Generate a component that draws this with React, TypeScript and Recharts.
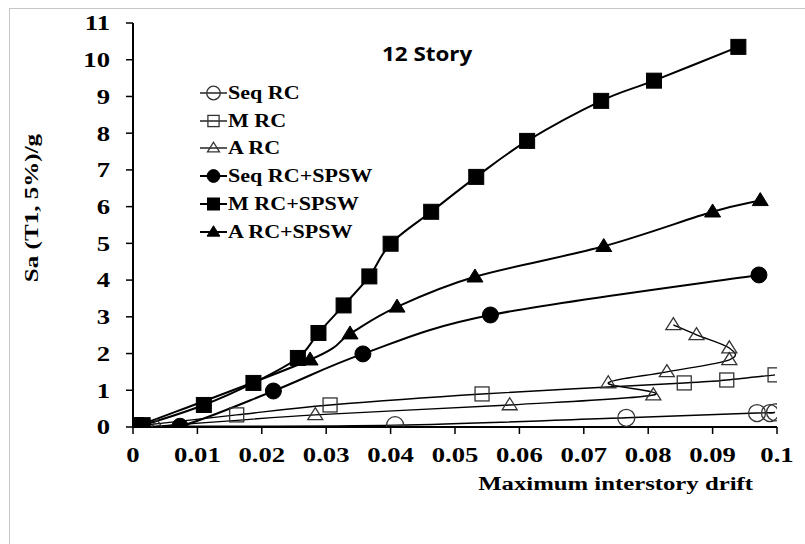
import React from "react";
import { LineChart, Line, XAxis, YAxis } from "recharts";

// drift ticks on the horizontal axis, Sa/g ticks on the vertical one
const driftTicks = [0, 0.01, 0.02, 0.03, 0.04, 0.05, 0.06, 0.07, 0.08, 0.09, 0.1];
const saTicks = [0, 1, 2, 3, 4, 5, 6, 7, 8, 9, 10, 11];

// IDA points: maximum interstory drift vs Sa(T1, 5%)/g
const seqRcDrift = [0.0005, 0.0407, 0.0766, 0.0969, 0.0989, 0.0997];
const seqRcSa = [0.02, 0.05, 0.25, 0.38, 0.38, 0.4];

const mRcDrift = [0.0008, 0.0161, 0.0306, 0.0542, 0.0856, 0.0922, 0.0997];
const mRcSa = [0.03, 0.33, 0.6, 0.9, 1.2, 1.28, 1.42];

const aRcDrift = [0.0037, 0.0283, 0.0585, 0.0808, 0.0738, 0.0829, 0.0926, 0.0926, 0.0875, 0.0839];
const aRcSa = [0.02, 0.33, 0.6, 0.87, 1.2, 1.5, 1.83, 2.15, 2.51, 2.78];

const seqSpswDrift = [0.0005, 0.0073, 0.0218, 0.0357, 0.0555, 0.0972];
const seqSpswSa = [0.02, 0.02, 0.98, 1.99, 3.05, 4.14];

const mSpswDrift = [0.0005, 0.0015, 0.011, 0.0187, 0.0256, 0.0288, 0.0327, 0.0367, 0.04, 0.0463, 0.0533, 0.0612, 0.0727, 0.0809, 0.094];
const mSpswSa = [0.05, 0.05, 0.6, 1.2, 1.88, 2.56, 3.31, 4.1, 4.99, 5.86, 6.81, 7.79, 8.88, 9.43, 10.35];

const aSpswDrift = [0.0008, 0.0275, 0.0337, 0.041, 0.0531, 0.0731, 0.09, 0.0974];
const aSpswSa = [0.03, 1.83, 2.54, 3.27, 4.09, 4.92, 5.86, 6.17];

type Kind = "circle" | "square" | "triangle";

const zip = (drift: number[], sa: number[]) => drift.map((d, i) => ({ drift: d, sa: sa[i] }));

const series = [
  { name: "Seq RC", data: zip(seqRcDrift, seqRcSa), kind: "circle" as Kind, filled: false },
  { name: "M RC", data: zip(mRcDrift, mRcSa), kind: "square" as Kind, filled: false },
  { name: "A RC", data: zip(aRcDrift, aRcSa), kind: "triangle" as Kind, filled: false },
  { name: "Seq RC+SPSW", data: zip(seqSpswDrift, seqSpswSa), kind: "circle" as Kind, filled: true },
  { name: "M RC+SPSW", data: zip(mSpswDrift, mSpswSa), kind: "square" as Kind, filled: true },
  { name: "A RC+SPSW", data: zip(aSpswDrift, aSpswSa), kind: "triangle" as Kind, filled: true },
];

const serif = "'Liberation Serif', 'Times New Roman', serif";
const STRETCH = 1.27;

// Excel-style smoothed line (Catmull-Rom through every point), works for x going backwards too
const smoothCurve = (context: any) => {
  let pts: [number, number][] = [];
  return {
    areaStart() {},
    areaEnd() {},
    lineStart() {
      pts = [];
    },
    point(x: number, y: number) {
      pts.push([+x, +y]);
    },
    lineEnd() {
      if (!pts.length) return;
      context.moveTo(pts[0][0], pts[0][1]);
      const k = 1 / 6;
      for (let i = 0; i < pts.length - 1; i++) {
        const p0 = pts[Math.max(i - 1, 0)];
        const p1 = pts[i];
        const p2 = pts[i + 1];
        const p3 = pts[Math.min(i + 2, pts.length - 1)];
        context.bezierCurveTo(
          p1[0] + (p2[0] - p0[0]) * k,
          p1[1] + (p2[1] - p0[1]) * k,
          p2[0] - (p3[0] - p1[0]) * k,
          p2[1] - (p3[1] - p1[1]) * k,
          p2[0],
          p2[1]
        );
      }
    },
  };
};

const Marker = ({ cx, cy, kind, filled, scale = 1 }: { cx: number; cy: number; kind: Kind; filled: boolean; scale?: number }) => {
  const fill = filled ? "#000" : "none";
  const stroke = filled ? "#000" : "#333";
  const sw = filled ? 1 : 1.3;
  if (kind === "circle") {
    const r = (filled ? 8 : 8.5) * scale;
    return <circle cx={cx} cy={cy} r={r} fill={fill} stroke={stroke} strokeWidth={sw} />;
  }
  if (kind === "square") {
    const s = (filled ? 15 : 14) * scale;
    return <rect x={cx - s / 2} y={cy - s / 2} width={s} height={s} fill={fill} stroke={stroke} strokeWidth={sw} />;
  }
  const w = (filled ? 16 : 15) * scale;
  const h = (filled ? 13 : 12) * scale;
  return (
    <polygon
      points={`${cx},${cy - h * 0.6} ${cx + w / 2},${cy + h * 0.4} ${cx - w / 2},${cy + h * 0.4}`}
      fill={fill}
      stroke={stroke}
      strokeWidth={sw}
      strokeLinejoin="miter"
    />
  );
};

const YTick = ({ x, y, payload }: any) => (
  <g transform={`translate(${x},${y})`}>
    <text transform={`scale(${STRETCH},1)`} textAnchor="end" dy="0.35em" fontFamily={serif} fontWeight="bold" fontSize={21} fill="#000">
      {payload.value}
    </text>
  </g>
);

const XTick = ({ x, y, payload }: any) => (
  <g transform={`translate(${x},${y})`}>
    <text transform={`scale(${STRETCH},1)`} textAnchor="middle" dy="0.71em" fontFamily={serif} fontWeight="bold" fontSize={21} fill="#000">
      {String(payload.value)}
    </text>
  </g>
);

const XTitle = ({ viewBox }: any) => (
  <g transform={`translate(${viewBox.x + viewBox.width - 24},490)`}>
    <text transform={`scale(${STRETCH},1)`} textAnchor="end" fontFamily={serif} fontWeight="bold" fontSize={19.5} fill="#000">
      Maximum interstory drift
    </text>
  </g>
);

const YTitle = () => (
  <g transform="translate(38,208) rotate(-90)">
    <text transform={`scale(1.32,1)`} textAnchor="middle" fontFamily={serif} fontWeight="bold" fontSize={19} fill="#000">
      Sa (T1, 5%)/g
    </text>
  </g>
);

const SeriesLegend = () => (
  <div style={{ position: "absolute", left: 200, top: 79 }}>
    {series.map((s) => (
      <div key={s.name} style={{ display: "flex", alignItems: "center", height: 27.8 }}>
        <svg width={27} height={20} style={{ flex: "none" }}>
          <line x1={0} x2={27} y1={10} y2={10} stroke="#000" strokeWidth={s.filled ? 2 : 1.3} />
          <Marker cx={13.5} cy={10} kind={s.kind} filled={s.filled} scale={0.8} />
        </svg>
        <span
          style={{
            display: "inline-block",
            fontFamily: serif,
            fontWeight: "bold",
            fontSize: 19,
            lineHeight: "20px",
            whiteSpace: "nowrap",
            transform: "scaleX(1.16)",
            transformOrigin: "left center",
            marginLeft: 1,
          }}
        >
          {s.name}
        </span>
      </div>
    ))}
  </div>
);

export default function App() {
  return (
    <div style={{ position: "absolute", left: 0, top: 0, width: 805, height: 544, background: "#fff", overflow: "hidden" }}>
      <div
        style={{
          position: "absolute",
          left: 9,
          top: 8,
          width: 820,
          height: 560,
          borderTop: "1px solid #c6c6c6",
          borderLeft: "1px solid #c6c6c6",
        }}
      />
      <LineChart width={805} height={544} margin={{ top: 23, right: 28, bottom: 77, left: 73 }}>
        <XAxis
          type="number"
          dataKey="drift"
          domain={[0, 0.1]}
          ticks={driftTicks}
          interval={0}
          height={40}
          allowDataOverflow
          axisLine={{ stroke: "#000", strokeWidth: 2 }}
          tickLine={{ stroke: "#000", strokeWidth: 1.5 }}
          tickSize={7}
          tickMargin={13}
          tick={<XTick />}
          label={<XTitle />}
        />
        <YAxis
          type="number"
          dataKey="sa"
          domain={[0, 11]}
          ticks={saTicks}
          interval={0}
          width={60}
          allowDataOverflow
          axisLine={{ stroke: "#000", strokeWidth: 2 }}
          tickLine={{ stroke: "#000", strokeWidth: 1.5 }}
          tickSize={7}
          tickMargin={16}
          tick={<YTick />}
          label={<YTitle />}
        />
        {series.map((s) => (
          <Line
            key={s.name}
            name={s.name}
            data={s.data}
            dataKey="sa"
            type={smoothCurve as any}
            stroke="#000"
            strokeWidth={s.filled ? 2 : 1.4}
            isAnimationActive={false}
            activeDot={false}
            dot={(p: any) => (
              <Marker key={`${s.name}-${p.index}`} cx={p.cx} cy={p.cy} kind={s.kind} filled={s.filled} />
            )}
          />
        ))}
      </LineChart>
      <SeriesLegend />
      <div
        style={{
          position: "absolute",
          left: 382,
          top: 40,
          fontFamily: "'Open Sans', sans-serif",
          fontWeight: "bold",
          fontSize: 20,
          lineHeight: "28px",
          whiteSpace: "nowrap",
          transform: "scaleX(1.12)",
          transformOrigin: "left center",
        }}
      >
        12 Story
      </div>
    </div>
  );
}
